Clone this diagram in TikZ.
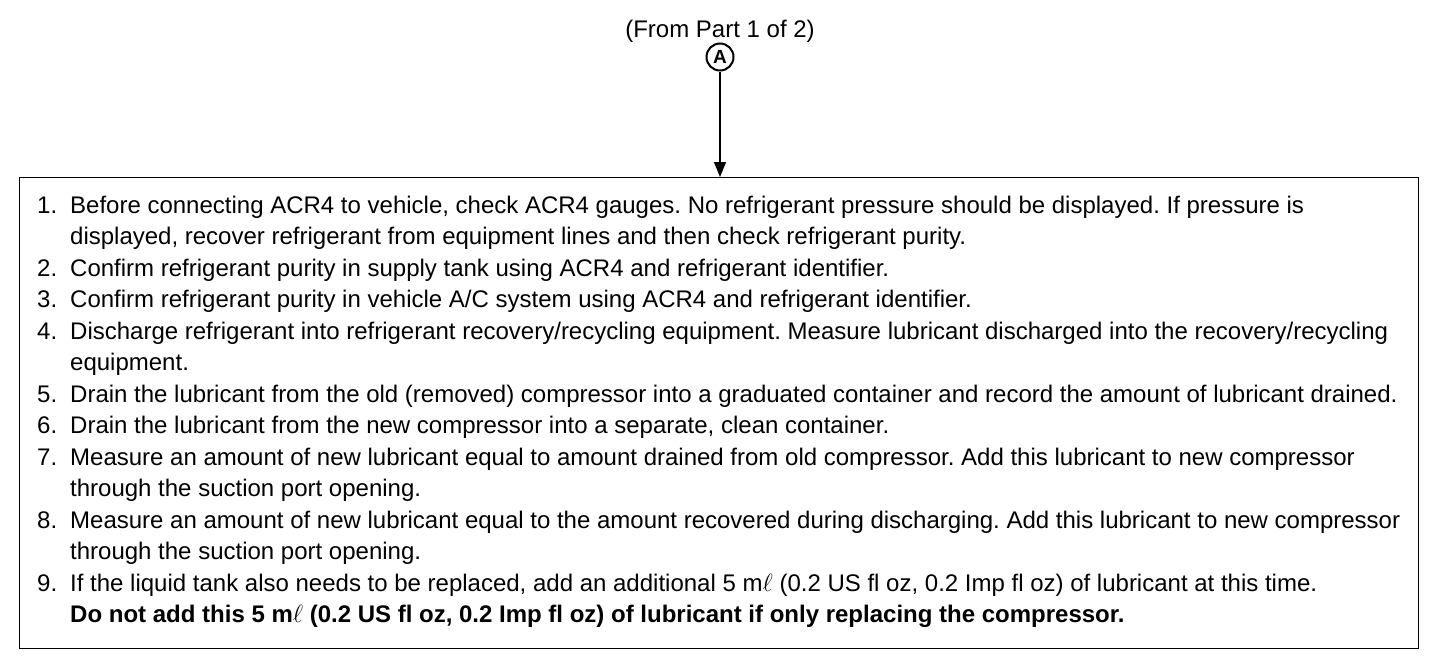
\documentclass[tikz,border=0pt]{standalone}
\usepackage{fontspec}
\setmainfont{Liberation Sans}
\usetikzlibrary{arrows.meta}
\frenchspacing
\begin{document}
\begin{tikzpicture}[x=1pt,y=-1pt,
  txt/.style={anchor=base west,inner sep=0pt,font=\fontsize{24}{28}\selectfont},
  num/.style={txt},
  frame/.style={draw,line width=1.4pt,inner sep=0pt},
  conn/.style={line width=1.4pt,-{Triangle[length=15pt,width=12pt]}}]
\useasboundingbox (0,0) rectangle (1456,670);
\node[txt,anchor=base] (title) at (720,37) {(From Part 1 of 2)};
\node[draw,circle,line width=2pt,minimum size=27pt,inner sep=0pt,font=\fontsize{19}{19}\selectfont\bfseries] (A) at (720,57) {A};
\node[frame,anchor=north west,minimum width=1399pt,minimum height=471pt] (box) at (19,177) {};
\draw[conn] (A.south) -- (A.south |- box.north);
% lines
\node[num] (n1) at (37,213) {1.};
\node[txt] (l1a) at (70,213) {Before connecting ACR4 to vehicle, check ACR4 gauges. No refrigerant pressure should be displayed. If pressure is};
\node[txt] (l1b) at (70,244.5) {displayed, recover refrigerant from equipment lines and then check refrigerant purity.};
\node[num] (n2) at (37,276) {2.};
\node[txt] (l2) at (70,276) {Confirm refrigerant purity in supply tank using ACR4 and refrigerant identifier.};
\node[num] (n3) at (37,307.5) {3.};
\node[txt] (l3) at (70,307.5) {Confirm refrigerant purity in vehicle A/C system using ACR4 and refrigerant identifier.};
\node[num] (n4) at (37,339) {4.};
\node[txt] (l4a) at (70,339) {Discharge refrigerant into refrigerant recovery/recycling equipment. Measure lubricant discharged into the recovery/recycling};
\node[txt] (l4b) at (70,370.5) {equipment.};
\node[num] (n5) at (37,402) {5.};
\node[txt] (l5) at (70,402) {Drain the lubricant from the old (removed) compressor into a graduated container and record the amount of lubricant drained.};
\node[num] (n6) at (37,433.5) {6.};
\node[txt] (l6) at (70,433.5) {Drain the lubricant from the new compressor into a separate, clean container.};
\node[num] (n7) at (37,465) {7.};
\node[txt] (l7a) at (70,465) {Measure an amount of new lubricant equal to amount drained from old compressor. Add this lubricant to new compressor};
\node[txt] (l7b) at (70,496.5) {through the suction port opening.};
\node[num] (n8) at (37,528) {8.};
\node[txt] (l8a) at (70,528) {Measure an amount of new lubricant equal to the amount recovered during discharging. Add this lubricant to new compressor};
\node[txt] (l8b) at (70,559.5) {through the suction port opening.};
\node[num] (n9) at (37,591) {9.};
\node[txt] (l9a) at (70,591) {If the liquid tank also needs to be replaced, add an additional 5 m\(\ell\) (0.2 US fl oz, 0.2 Imp fl oz) of lubricant at this time.};
\node[txt,font=\fontsize{24}{28}\selectfont\bfseries] (l9b) at (70,622.5) {Do not add this 5 m\(\ell\) (0.2 US fl oz, 0.2 Imp fl oz) of lubricant if only replacing the compressor.};
\end{tikzpicture}
\end{document}
